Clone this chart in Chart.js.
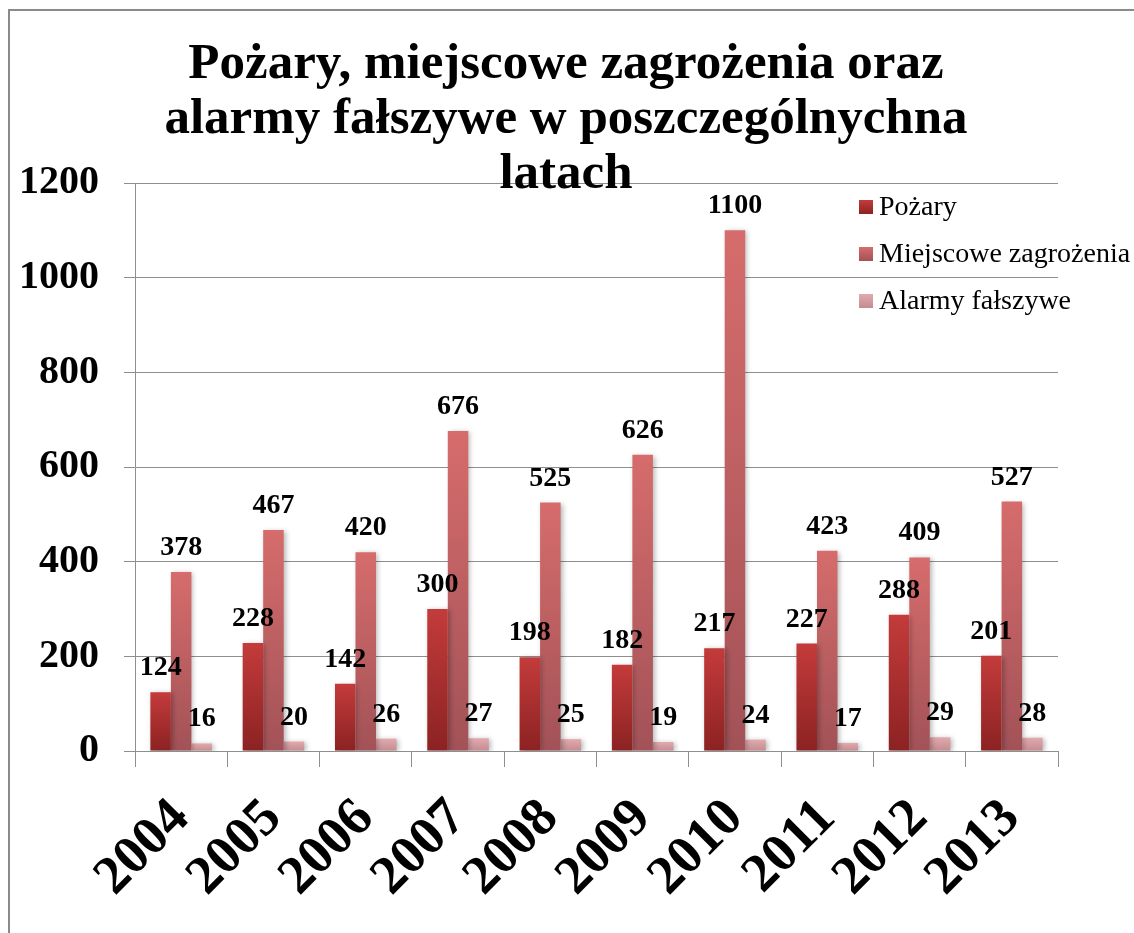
<!DOCTYPE html>
<html>
<head>
<meta charset="utf-8">
<script src="https://cdn.jsdelivr.net/npm/chart.js@4.4.0/dist/chart.umd.min.js"></script>
<style>
  html, body { margin: 0; padding: 0; background: #fff; }
  #wrap { width: 1134px; height: 933px; position: relative; }
</style>
</head>
<body>
<div id="wrap"><canvas id="chart" width="1134" height="933"></canvas></div>
<script>
const years = ['2004', '2005', '2006', '2007', '2008', '2009', '2010', '2011', '2012', '2013'];
const pozary = [124, 228, 142, 300, 198, 182, 217, 227, 288, 201];
const miejscowe = [378, 467, 420, 676, 525, 626, 1100, 423, 409, 527];
const alarmy = [16, 20, 26, 27, 25, 19, 24, 17, 29, 28];

const titleLines = ['Pożary, miejscowe zagrożenia oraz', 'alarmy fałszywe w poszczególnychna', 'latach'];

const SERIF = '"Liberation Serif", "Times New Roman", serif';
const GRID = '#8e8e8e';

// top / bottom colours of each series' gradient
const shades = [
  ['#c43b3b', '#8c2222'],
  ['#d66c6c', '#a25257'],
  ['#e2aaae', '#c38c91']
];

function barGradient(idx) {
  return ctx => {
    const chart = ctx.chart;
    const y = chart.scales && chart.scales.y;
    if (!chart.chartArea || !y || ctx.raw === undefined) return shades[idx][0];
    const top = y.getPixelForValue(ctx.raw);
    const bottom = y.getPixelForValue(0);
    const g = chart.ctx.createLinearGradient(0, top, 0, bottom);
    g.addColorStop(0, shades[idx][0]);
    g.addColorStop(1, shades[idx][1]);
    return g;
  };
}

const decorPlugin = {
  id: 'decor',
  beforeDatasetsDraw(chart) {
    const c = chart.ctx;
    c.save();
    c.shadowColor = 'rgba(0,0,0,0.28)';
    c.shadowBlur = 5;
    c.shadowOffsetX = 2;
    c.shadowOffsetY = 1;
  },
  afterDatasetsDraw(chart) {
    const c = chart.ctx;
    c.restore();

    // value labels above every bar
    c.save();
    c.font = 'bold 28px ' + SERIF;
    c.fillStyle = '#000';
    c.textAlign = 'center';
    c.textBaseline = 'alphabetic';
    chart.data.datasets.forEach((ds, i) => {
      chart.getDatasetMeta(i).data.forEach((bar, j) => {
        c.fillText(String(ds.data[j]), bar.x, bar.y - 17);
      });
    });
    c.restore();
  },
  afterDraw(chart) {
    const c = chart.ctx;
    c.save();

    // outer frame
    c.strokeStyle = '#8a8a8a';
    c.lineWidth = 2;
    c.beginPath();
    c.moveTo(9, 933);
    c.lineTo(9, 10);
    c.lineTo(1134, 10);
    c.stroke();

    // title
    c.fillStyle = '#000';
    c.font = 'bold 51px ' + SERIF;
    c.textAlign = 'center';
    c.textBaseline = 'alphabetic';
    titleLines.forEach((line, i) => c.fillText(line, 566, 78 + i * 55));

    // legend
    c.font = '28px ' + SERIF;
    c.textAlign = 'left';
    chart.data.datasets.forEach((ds, i) => {
      const cy = 207 + i * 47;
      const g = c.createLinearGradient(0, cy - 7, 0, cy + 7);
      g.addColorStop(0, shades[i][0]);
      g.addColorStop(1, shades[i][1]);
      c.fillStyle = g;
      c.fillRect(859, cy - 7, 14, 14);
      c.fillStyle = '#000';
      c.fillText(ds.label, 879, cy + 8);
    });
    c.restore();
  }
};

new Chart(document.getElementById('chart'), {
  type: 'bar',
  data: {
    labels: years,
    datasets: [
      { label: 'Pożary', data: pozary, backgroundColor: barGradient(0) },
      { label: 'Miejscowe zagrożenia', data: miejscowe, backgroundColor: barGradient(1) },
      { label: 'Alarmy fałszywe', data: alarmy, backgroundColor: barGradient(2) }
    ]
  },
  options: {
    responsive: false,
    animation: false,
    devicePixelRatio: 1,
    layout: { padding: { top: 183, right: 76, left: 0, bottom: 0 } },
    datasets: {
      bar: { categoryPercentage: 0.667, barPercentage: 1.0, borderWidth: 0 }
    },
    plugins: {
      legend: { display: false },
      title: { display: false },
      tooltip: { enabled: false }
    },
    scales: {
      x: {
        afterFit: scale => { scale.height = 182; },
        grid: {
          offset: true,
          drawOnChartArea: false,
          color: GRID,
          tickLength: 16
        },
        border: { color: GRID, width: 1 },
        ticks: {
          color: '#000',
          font: { family: SERIF, size: 54, weight: 'bold' },
          autoSkip: false,
          minRotation: 45,
          maxRotation: 45,
          padding: 20
        }
      },
      y: {
        min: 0,
        max: 1200,
        afterFit: scale => { scale.width = 135; },
        grid: { color: GRID, tickLength: 11 },
        border: { color: GRID, width: 1 },
        ticks: {
          stepSize: 200,
          color: '#000',
          font: { family: SERIF, size: 40, weight: 'bold' },
          padding: 25,
          callback: v => String(v)
        }
      }
    }
  },
  plugins: [decorPlugin]
});
</script>
</body>
</html>
